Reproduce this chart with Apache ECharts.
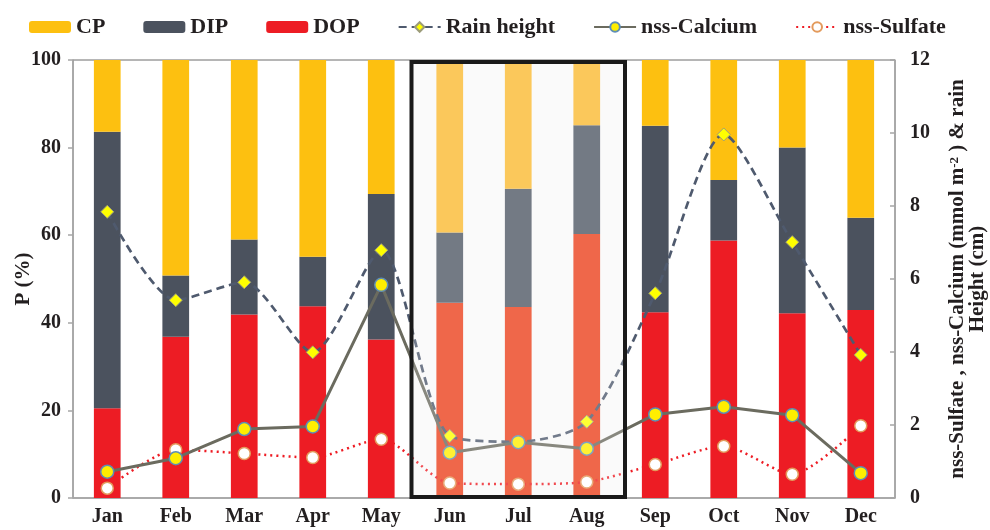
<!DOCTYPE html>
<html>
<head>
<meta charset="utf-8">
<script src="https://cdn.jsdelivr.net/npm/echarts@6/dist/echarts.min.js"></script>
<style>html,body{margin:0;padding:0;background:#fff}#c{width:990px;height:530px}</style>
</head>
<body>
<div id="c"></div>
<script>
var months = ['Jan','Feb','Mar','Apr','May','Jun','Jul','Aug','Sep','Oct','Nov','Dec'];
var cp  = [16.4, 49.2, 41.0, 44.9, 30.6, 39.4, 29.4, 14.9, 15.0, 27.4, 20.0, 36.0];
var dip = [63.1, 14.0, 17.1, 11.3, 33.2, 16.0, 27.0, 24.8, 42.6, 13.8, 37.8, 21.1];
var dop = [20.5, 36.8, 41.9, 43.8, 36.2, 44.6, 43.6, 60.3, 42.4, 58.8, 42.2, 42.9];
var rain    = [7.84, 5.42, 5.91, 3.99, 6.79, 1.70, 1.54, 2.09, 5.61, 9.96, 7.01, 3.92];
var calcium = [0.72, 1.09, 1.89, 1.96, 5.84, 1.24, 1.53, 1.35, 2.29, 2.50, 2.27, 0.68];
var sulfate = [0.27, 1.32, 1.22, 1.11, 1.61, 0.41, 0.38, 0.44, 0.92, 1.42, 0.65, 1.98];
var highlighted = ['Jun','Jul','Aug'];

var FONT = '"Liberation Serif", "Times New Roman", serif';
var TXT = '#231f20';
var AX = '#a6a6a6';

function barData(vals, normal, faded) {
  return vals.map(function (v, i) {
    var hl = highlighted.indexOf(months[i]) >= 0;
    return { value: v, itemStyle: { color: hl ? faded : normal } };
  });
}

var chart = echarts.init(document.getElementById('c'), null, { renderer: 'canvas' });
var option = {
  animation: false,
  backgroundColor: '#fff',
  textStyle: { fontFamily: FONT },
  legend: {
    left: 24, top: 11, itemGap: 38, itemWidth: 42, itemHeight: 12,
    data: ['CP','DIP','DOP','Rain height','nss-Calcium','nss-Sulfate'],
    textStyle: { fontFamily: FONT, fontWeight: 'bold', fontSize: 22, color: TXT }
  },
  grid: { left: 73, right: 95, top: 60, bottom: 32, show: true, borderColor: '#6d6d6d', borderWidth: 1,
    containLabel: false, outerBoundsMode: 'none' },
  xAxis: {
    type: 'category', data: months,
    axisLine: { lineStyle: { color: AX, width: 1.5 } },
    axisTick: { length: 6, lineStyle: { color: AX, width: 1.5 } },
    axisLabel: { fontFamily: FONT, fontWeight: 'bold', fontSize: 20, color: TXT, margin: 9 }
  },
  yAxis: [{
    type: 'value', min: 0, max: 100, interval: 20,
    name: 'P (%)', nameLocation: 'middle', nameGap: 39, nameRotate: 90, nameMoveOverlap: false,
    nameTextStyle: { fontFamily: FONT, fontWeight: 'bold', fontSize: 21, color: TXT },
    axisLine: { show: true, lineStyle: { color: AX, width: 1.5 } },
    axisTick: { show: true, length: 5, lineStyle: { color: AX, width: 1.5 } },
    splitLine: { show: false },
    axisLabel: { fontFamily: FONT, fontWeight: 'bold', fontSize: 20, color: TXT, margin: 12 }
  }, {
    type: 'value', min: 0, max: 12, interval: 2, position: 'right',
    name: '{a|nss-Sulfate , nss-Calcium (mmol m}{s|-2}{a| ) & rain}\n{a|Height (cm)}',
    nameLocation: 'middle', nameGap: 53, nameRotate: 90, nameMoveOverlap: false,
    nameTextStyle: {
      fontFamily: FONT, fontWeight: 'bold', fontSize: 21, color: TXT, lineHeight: 20, align: 'center',
      rich: {
        a: { fontFamily: FONT, fontWeight: 'bold', fontSize: 21, color: TXT, lineHeight: 20 },
        s: { fontFamily: FONT, fontWeight: 'bold', fontSize: 13, color: TXT, verticalAlign: 'top', lineHeight: 20, padding: [0, 0, 10, 0] }
      }
    },
    axisLine: { show: true, lineStyle: { color: AX, width: 1.5 } },
    axisTick: { show: true, inside: true, length: 5, lineStyle: { color: AX, width: 1.5 } },
    splitLine: { show: false },
    axisLabel: { fontFamily: FONT, fontWeight: 'bold', fontSize: 20, color: TXT, margin: 15 }
  }],
  series: [
    { name: 'DOP', type: 'bar', stack: 'p', barWidth: '39%', data: barData(dop, '#ed1c24', '#ec411d'), itemStyle: { color: '#ed1c24' } },
    { name: 'DIP', type: 'bar', stack: 'p', barWidth: '39%', data: barData(dip, '#4b525e', '#505966'), itemStyle: { color: '#4b525e' } },
    { name: 'CP',  type: 'bar', stack: 'p', barWidth: '39%', data: barData(cp, '#fdc010', '#fbbb33'), itemStyle: { color: '#fdc010' } },
    { name: 'Rain height', type: 'line', yAxisIndex: 1, data: rain, smooth: 0.25, z: 5,
      symbol: 'diamond', symbolSize: 13,
      lineStyle: { color: '#4f5a6e', width: 2.7, type: [8, 5] },
      itemStyle: { color: '#ffff00', borderColor: '#9c9c7a', borderWidth: 1 } },
    { name: 'nss-Sulfate', type: 'line', yAxisIndex: 1, data: sulfate, smooth: 0.25, z: 6,
      symbol: 'circle', symbolSize: 12,
      lineStyle: { color: '#ee1c24', width: 2.5, type: [2, 4] },
      itemStyle: { color: '#ffffff', borderColor: '#e39a5c', borderWidth: 1.5 } },
    { name: 'nss-Calcium', type: 'line', yAxisIndex: 1, data: calcium, z: 7,
      symbol: 'circle', symbolSize: 13,
      lineStyle: { color: '#6b6b5f', width: 3 },
      itemStyle: { color: '#ffee00', borderColor: '#5d8db5', borderWidth: 1.5 } }
  ]
};
chart.setOption(option);

// Highlight box around Jun-Aug, positioned from the axis scale
var first = highlighted[0], last = highlighted[highlighted.length - 1];
var xFirst = chart.convertToPixel({ xAxisIndex: 0 }, first);
var xLast = chart.convertToPixel({ xAxisIndex: 0 }, last);
var band = chart.convertToPixel({ xAxisIndex: 0 }, months[1]) - chart.convertToPixel({ xAxisIndex: 0 }, months[0]);
var yTop = chart.convertToPixel({ yAxisIndex: 0 }, 100);
var yBot = chart.convertToPixel({ yAxisIndex: 0 }, 0);
var bx = xFirst - band / 2 - 4, bw = (xLast - xFirst) + band + 8;
var by = yTop + 2, bh = (yBot - 1) - by;
chart.setOption({
  graphic: [
    { type: 'rect', z: -10, silent: true, shape: { x: bx, y: by, width: bw, height: bh }, style: { fill: '#f9f9f9' } },
    { type: 'rect', z: 100, silent: true, shape: { x: bx, y: by, width: bw, height: bh }, style: { fill: 'rgba(255,255,255,0.2)' } },
    { type: 'rect', z: 101, silent: true, shape: { x: bx, y: by, width: bw, height: bh }, style: { fill: 'none', stroke: '#1a1a1a', lineWidth: 4 } }
  ]
});
</script>
</body>
</html>
